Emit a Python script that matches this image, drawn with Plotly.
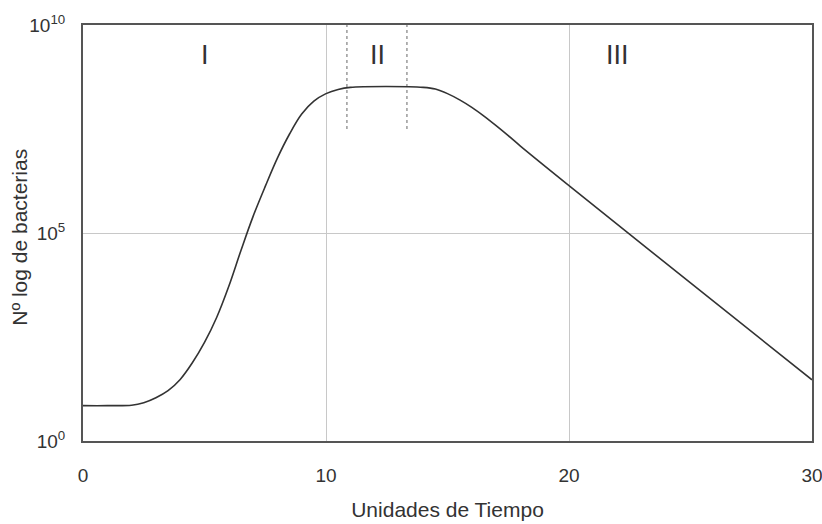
import plotly.graph_objects as go

# Growth curve (time units, log10 of bacteria count)
time = [0, 1, 2, 2.5, 3, 3.5, 4, 4.5, 5, 5.5, 6, 6.5, 7, 7.5, 8, 8.5, 9, 9.5, 10,
        10.5, 11, 12.5, 14, 14.5, 15, 15.5, 16, 16.5, 17, 17.5, 18, 20, 25, 30]
log_bacteria = [0.85, 0.85, 0.86, 0.92, 1.04, 1.21, 1.48, 1.88, 2.37, 2.97, 3.72, 4.58,
                5.4, 6.12, 6.8, 7.38, 7.86, 8.17, 8.35, 8.45, 8.5, 8.52, 8.5, 8.46,
                8.35, 8.2, 8.02, 7.81, 7.58, 7.34, 7.09, 6.14, 3.8, 1.47]

# Phase markers
phase_labels = ["I", "II", "III"]
phase_label_x = [5.0, 12.1, 22.0]
phase_label_logy = 9.28
stationary_bounds_x = [10.86, 13.33]
stationary_bounds_logy = [7.5, 10.0]

x_tickvals = [0, 10, 20, 30]
x_ticktext = ["0", "10", "20", "30"]
y_tickvals = [1, 1e5, 1e10]
y_ticktext = ["10<sup>0</sup>", "10<sup>5</sup>", "10<sup>10</sup>"]
x_title = "Unidades de Tiempo"
y_title = "Nº log de bacterias"

FONT = "Liberation Sans, Arial, sans-serif"

fig = go.Figure()

for bx in stationary_bounds_x:
    fig.add_trace(go.Scatter(
        x=[bx, bx], y=[10 ** v for v in stationary_bounds_logy],
        mode="lines", line=dict(color="#9a9a9a", width=1.5, dash="dot"),
        hoverinfo="skip", showlegend=False))

fig.add_trace(go.Scatter(
    x=time, y=[10 ** v for v in log_bacteria],
    mode="lines", line=dict(color="#333333", width=1.6, shape="spline", smoothing=1.0),
    showlegend=False))

for lab, lx in zip(phase_labels, phase_label_x):
    fig.add_annotation(x=lx, y=phase_label_logy, text=lab, showarrow=False,
                       font=dict(family=FONT, size=27, color="#333333"))

# y-axis title placed as a rotated annotation for exact positioning
fig.add_annotation(xref="paper", yref="paper", x=-0.087, y=0.49, text=y_title,
                   textangle=-90, showarrow=False, xanchor="center", yanchor="middle",
                   font=dict(family=FONT, size=21, color="#333333"))

fig.update_layout(
    width=822, height=524,
    margin=dict(l=83, r=10, t=25, b=83),
    paper_bgcolor="white", plot_bgcolor="white",
    font=dict(family=FONT, color="#333333"),
    xaxis=dict(
        range=[0, 30], tickvals=x_tickvals, ticktext=x_ticktext,
        showgrid=True, gridcolor="#c8c8c8", gridwidth=1,
        showline=True, linecolor="#555555", linewidth=2, mirror=True,
        ticks="", ticklabelstandoff=16, tickfont=dict(size=19, family=FONT),
        ticklabeloverflow="allow",
        zeroline=False, automargin=False,
        title=dict(text=x_title, font=dict(size=21, family=FONT), standoff=18),
    ),
    yaxis=dict(
        type="log", range=[0, 10], tickvals=y_tickvals, ticktext=y_ticktext,
        showgrid=True, gridcolor="#c8c8c8", gridwidth=1,
        showline=True, linecolor="#555555", linewidth=2, mirror=True,
        ticks="", ticklabelstandoff=12, tickfont=dict(size=19, family=FONT),
        ticklabeloverflow="allow",
        zeroline=False, automargin=False,
    ),
)

fig.write_html("out.html")
